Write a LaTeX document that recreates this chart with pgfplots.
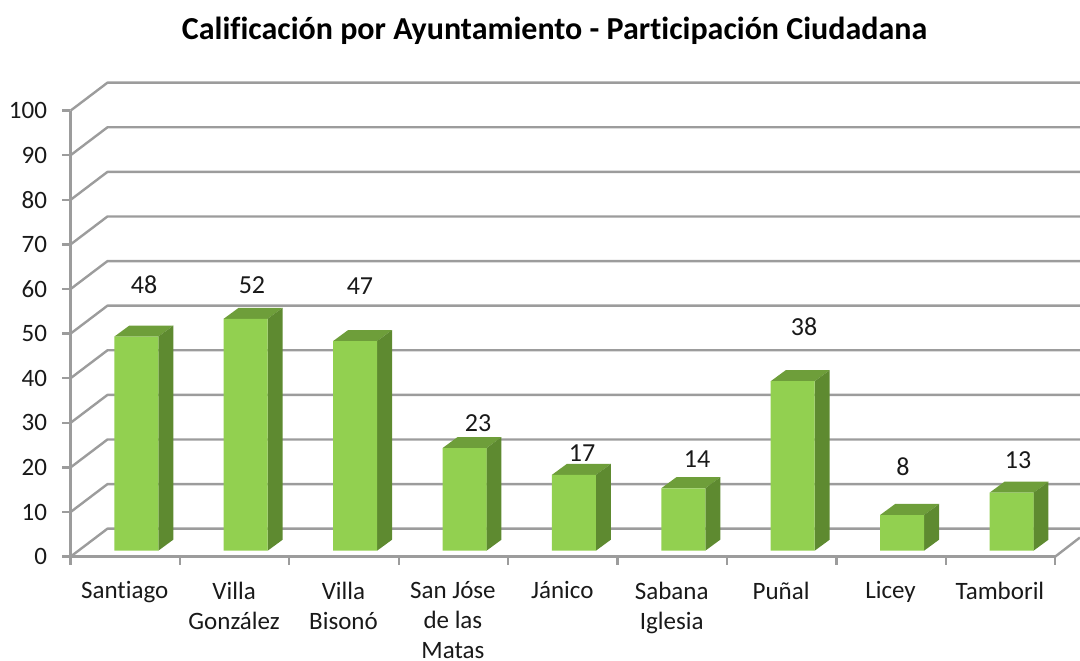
\documentclass[border=0pt]{standalone}
\usepackage{pgfplots}
\pgfplotsset{compat=1.18}
\usepackage{fontspec}
\setmainfont{Carlito}[RawFeature={-liga}]
\definecolor{gridg}{HTML}{9C9C9C}
\definecolor{barfront}{HTML}{92D050}
\definecolor{bartop}{HTML}{6E9E3A}
\definecolor{barside}{HTML}{5E8A30}
\newcommand{\wallline}[2]{\addplot[gridg,line width=2.4pt,line join=bevel] coordinates {(0,#1) (0.338,#2) (9.227,#2)};}
\newcommand{\barfaces}[6]{%
 \addplot[fill=bartop,draw=none,yshift=6pt] coordinates {(#1,#5) (#2,#5) (#4,#6) (#3,#6)} --cycle;
 \addplot[fill=barside,draw=none,yshift=6pt] coordinates {(#2,0) (#4,2.47) (#4,#6) (#2,#5)} --cycle;
}
\begin{document}
\begin{tikzpicture}[x=1pt,y=1pt]
\path[use as bounding box] (0,0) rectangle (1080,661);
\node[font=\fontsize{32}{36}\selectfont\bfseries,anchor=center] at (554.5,630) {Calificación por Ayuntamiento - Participación Ciudadana};
\begin{axis}[
  at={(70.5pt,104.3pt)},anchor=origin,
  scale only axis,width=984.6pt,height=446pt,
  xmin=0,xmax=9,ymin=0,ymax=100,clip=false,
  axis x line*=bottom,axis y line*=left,
  axis line style={gridg,line width=2.4pt,-},
  tick style={gridg,line width=2.4pt},
  tick align=outside,major tick length=8pt,
  xtick={0,1,2,3,4,5,6,7,8,9},xticklabels={},
  ytick={0,10,20,30,40,50,60,70,80,90,100},
  yticklabel style={font=\fontsize{25}{30}\selectfont,text=black!90,/pgf/number format/assume math mode=true,xshift=-12pt},
  extra x ticks={0.5,1.5,2.5,3.5,4.5,5.5,6.5,7.5,8.5},
  extra x tick labels={Santiago,Villa\\González,Villa\\Bisonó,San Jóse\\de las\\Matas,Jánico,Sabana\\Iglesia,Puñal,Licey,Tamboril},
  extra x tick style={major tick length=0pt,tick style={draw=none},
    tick label style={font=\fontsize{25}{30}\selectfont,text=black!90,align=center,anchor=north,yshift=-21.5pt,xshift=-0.5pt}},
]
\wallline{0}{6.28}
\wallline{10}{16.28}
\wallline{20}{26.28}
\wallline{30}{36.28}
\wallline{40}{46.28}
\wallline{50}{56.28}
\wallline{60}{66.28}
\wallline{70}{76.28}
\wallline{80}{86.28}
\wallline{90}{96.28}
\wallline{100}{106.28}
\addplot[gridg,line width=2.4pt] coordinates {(9,0) (9.227,4.3)};
\barfaces{0.4005}{0.8025}{0.5375}{0.9395}{48}{50.47}
\barfaces{1.4005}{1.8025}{1.5375}{1.9395}{52}{54.47}
\barfaces{2.4005}{2.8025}{2.5375}{2.9395}{47}{49.47}
\barfaces{3.4005}{3.8025}{3.5375}{3.9395}{23}{25.47}
\barfaces{4.4005}{4.8025}{4.5375}{4.9395}{17}{19.47}
\barfaces{5.4005}{5.8025}{5.5375}{5.9395}{14}{16.47}
\barfaces{6.4005}{6.8025}{6.5375}{6.9395}{38}{40.47}
\barfaces{7.4005}{7.8025}{7.5375}{7.9395}{8}{10.47}
\barfaces{8.4005}{8.8025}{8.5375}{8.9395}{13}{15.47}
\addplot[ybar,bar width=44pt,bar shift=0pt,fill=barfront,draw=none,yshift=6pt] coordinates {
(0.6015,48) (1.6015,52) (2.6015,47) (3.6015,23) (4.6015,17) (5.6015,14) (6.6015,38) (7.6015,8) (8.6015,13)};
\begin{scope}[font=\fontsize{26}{30}\selectfont,text=black!90]
\node at (axis cs:0.672,60.9) {48};
\node at (axis cs:1.659,60.9) {52};
\node at (axis cs:2.646,60.7) {47};
\node at (axis cs:3.725,30.0) {23};
\node at (axis cs:4.676,23.3) {17};
\node at (axis cs:5.727,21.9) {14};
\node at (axis cs:6.705,51.5) {38};
\node at (axis cs:7.609,20.1) {8};
\node at (axis cs:8.661,21.7) {13};
\end{scope}
\end{axis}
\end{tikzpicture}
\end{document}
